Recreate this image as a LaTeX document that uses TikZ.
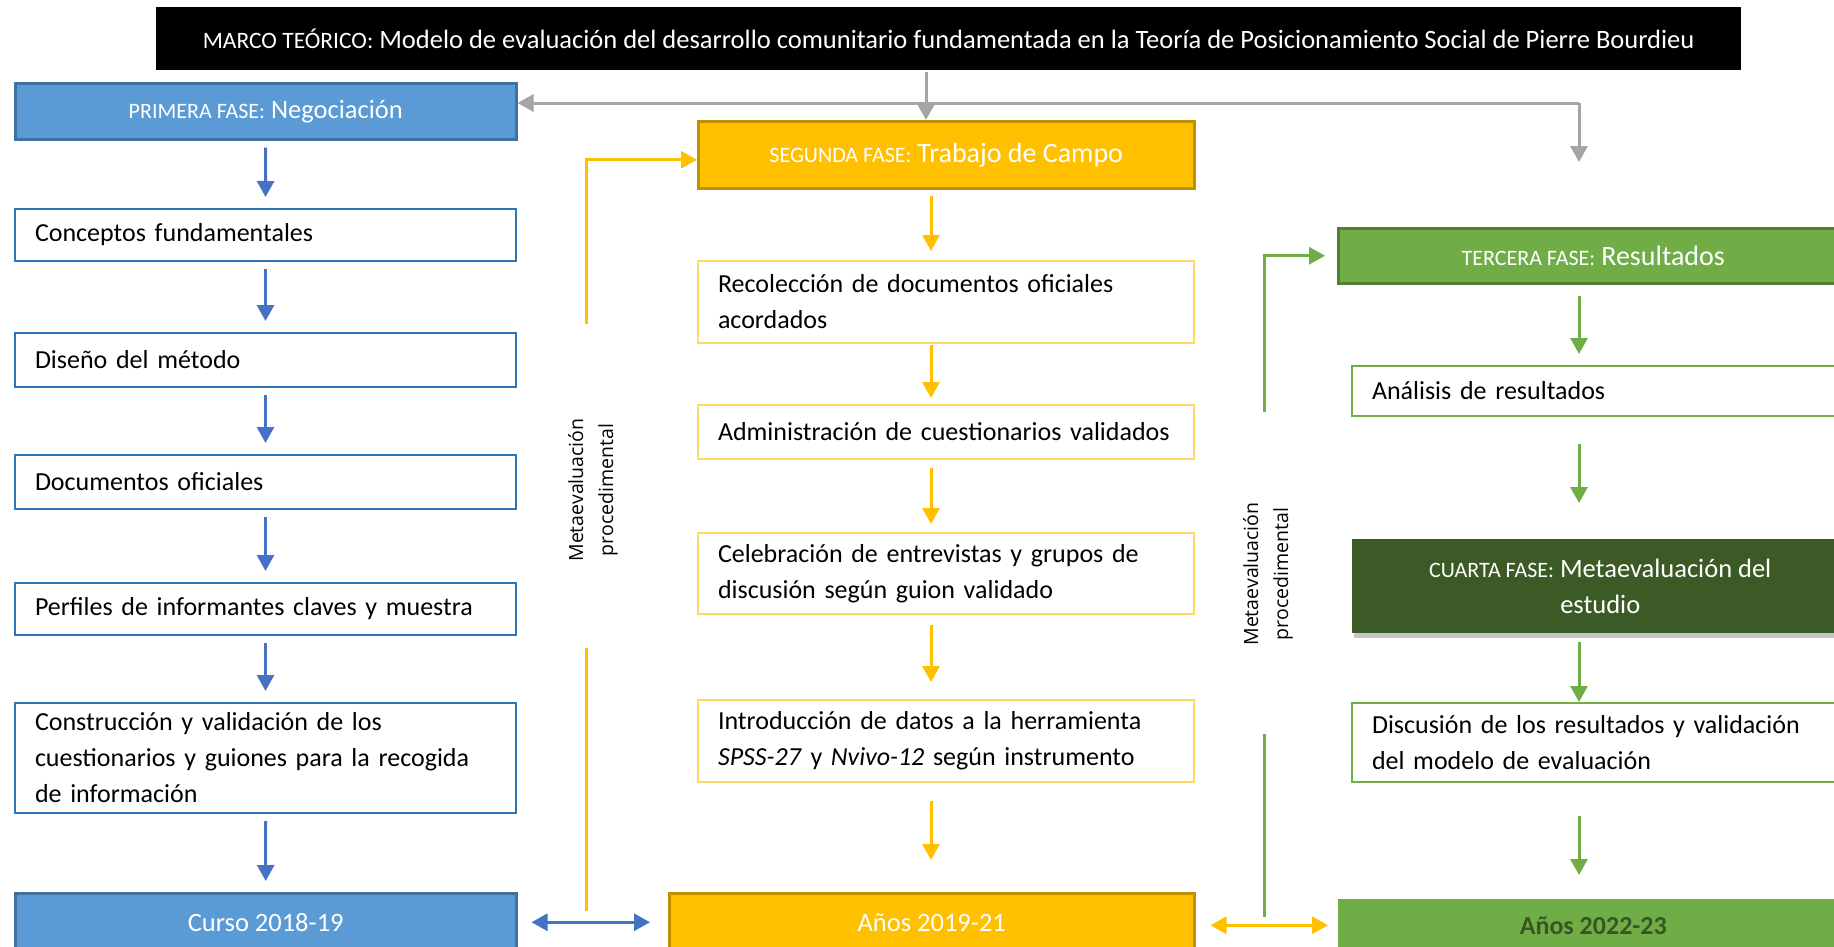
\documentclass[tikz,border=0pt]{standalone}
\usepackage{fontspec}
\setmainfont{Carlito}
\newfontfamily\labfont{Open Sans}
\usetikzlibrary{arrows.meta,shadows}

\definecolor{azul}{HTML}{5B9BD5}
\definecolor{azulborde}{HTML}{41719C}
\definecolor{azullinea}{HTML}{2E75B6}
\definecolor{azulflecha}{HTML}{4472C4}
\definecolor{amarillo}{HTML}{FFC000}
\definecolor{amarilloborde}{HTML}{BF9000}
\definecolor{amarillolinea}{HTML}{FFD966}
\definecolor{verde}{HTML}{70AD47}
\definecolor{verdeborde}{HTML}{507E32}
\definecolor{verdeoscuro}{HTML}{3B5A25}
\definecolor{textoverde}{HTML}{375623}
\definecolor{gris}{HTML}{A5A5A5}

\newcommand{\pequena}[1]{{\fontsize{22}{26}\selectfont #1}}

\begin{document}
\begin{tikzpicture}[x=1pt,y=-1pt,
  caja/.style={rectangle, draw, fill=white, anchor=north west, line width=2pt,
    inner xsep=20pt, inner ysep=0pt, align=left,
    font=\fontsize{26}{36}\selectfont},
  fase/.style={rectangle, anchor=north west, line width=2.5pt, inner sep=0pt,
    align=center, text=white, font=\fontsize{26.5}{36}\selectfont},
  flecha/.style={line width=3pt, -{Triangle[width=17pt,length=16pt]}},
  rotulo/.style={rotate=90, align=center, font=\labfont\fontsize{19.5}{30}\selectfont}
]
\clip (0,0) rectangle (1834,946);
\useasboundingbox (0,0) rectangle (1834,946);

% marco teorico
\node[fase, fill=black, minimum width=1585pt, minimum height=63pt,
  font=\fontsize{26.5}{30}\selectfont] (marco) at (155,6)
  {{\fontsize{23.5}{28}\selectfont MARCO TEÓRICO:} Modelo de evaluación del desarrollo comunitario fundamentada en la Teoría de Posicionamiento Social de Pierre Bourdieu};

% primera fase
\node[fase, fill=azul, draw=azulborde, minimum width=501pt, minimum height=56pt] (pri) at (14,82)
  {\pequena{PRIMERA FASE:} Negociación};
\begin{scope}[every node/.style={caja, draw=azullinea, text width=461pt}]
\node[minimum height=52pt] (c1) at (14,208) {Conceptos fundamentales};
\node[minimum height=54pt] (c2) at (14,332) {Diseño del método};
\node[minimum height=54pt] (c3) at (14,454) {Documentos oficiales};
\node[minimum height=52pt] (c4) at (14,582) {Perfiles de informantes claves y muestra};
\node[minimum height=110pt] (c5) at (14,702)
  {Construcción y validación de los\\cuestionarios y guiones para la recogida\\de información};
\end{scope}
\node[fase, fill=azul, draw=azulborde, minimum width=501pt, minimum height=58pt] (curso) at (14,892)
  {Curso 2018-19};

% segunda fase
\node[fase, fill=amarillo, draw=amarilloborde, minimum width=496pt, minimum height=67pt] (seg) at (697,120)
  {\pequena{SEGUNDA FASE:} {\fontsize{28}{36}\selectfont Trabajo de Campo}};
\begin{scope}[every node/.style={caja, draw=amarillolinea, text width=456pt}]
\node[minimum height=82pt] (m1) at (697,260) {Recolección de documentos oficiales\\acordados};
\node[minimum height=54pt] (m2) at (697,404) {Administración de cuestionarios validados};
\node[minimum height=81pt] (m3) at (697,532) {Celebración de entrevistas y grupos de\\discusión según guion validado};
\node[minimum height=82pt] (m4) at (697,699)
  {Introducción de datos a la herramienta\\\textit{SPSS-27} y \textit{Nvivo-12} según instrumento};
\end{scope}
\node[fase, fill=amarillo, draw=amarilloborde, minimum width=525pt, minimum height=58pt] (anos1) at (668,892)
  {Años 2019-21};

% tercera y cuarta fase
\node[fase, fill=verde, draw=verdeborde, minimum width=510pt, minimum height=55pt] (ter) at (1337,227)
  {\pequena{TERCERA FASE:} {\fontsize{28}{36}\selectfont Resultados}};
\begin{scope}[every node/.style={caja, draw=verde, text width=456pt}]
\node[minimum height=50pt] (r1) at (1351,365) {Análisis de resultados};
\node[minimum height=79pt] (r2) at (1351,702) {Discusión de los resultados y validación\\del modelo de evaluación};
\end{scope}
\node[fase, fill=verdeoscuro, minimum width=496pt, minimum height=94pt,
  drop shadow={shadow xshift=2pt, shadow yshift=-5pt, opacity=.45}] (cua) at (1351,538)
  {\pequena{CUARTA FASE:} Metaevaluación del\\estudio};
\node[fase, fill=verde, minimum width=510pt, minimum height=52pt, text=textoverde,
  font=\fontsize{26}{36}\selectfont\bfseries] (anos2) at (1337,898) {Años 2022-23};

% flechas de cada columna
\coordinate (ejeM) at (931,0);
\coordinate (ejeD) at (1579,0);
\foreach \a/\b in {pri/c1,c1/c2,c2/c3,c3/c4,c4/c5,c5/curso}
  \draw[flecha, azulflecha, shorten <=7pt, shorten >=11pt] (\a.south) -- (\b.north);
\foreach \a/\b/\s/\e in {seg/m1/6/9,m1/m2/1/6,m2/m3/8/8,m3/m4/10/17,m4/anos1/18/32}
  \draw[flecha, amarillo, shorten <=\s pt, shorten >=\e pt] (\a.south -| ejeM) -- (\b.north -| ejeM);
\foreach \a/\b/\s/\e in {ter/r1/11/11,r1/cua/27/35,cua/r2/7/0,r2/anos2/33/23}
  \draw[flecha, verde, shorten <=\s pt, shorten >=\e pt] (\a.south -| ejeD) -- (\b.north -| ejeD);

% flechas grises
\coordinate (g) at (926,103);
\coordinate (gt) at (1579,162);
\draw[flecha, gris] (marco.south -| g) -- (seg.north -| g);
\draw[flecha, gris] (g -| ejeD) -- (g -| pri.east);
\draw[flecha, gris] (g -| ejeD) -- (gt);

% periodos
\draw[line width=3pt, azulflecha, {Triangle[width=17pt,length=16pt]}-{Triangle[width=17pt,length=16pt]},
  shorten <=14pt, shorten >=18pt] (curso.east) -- (curso.east -| anos1.west);
\draw[line width=3pt, amarillo, {Triangle[width=17pt,length=16pt]}-{Triangle[width=17pt,length=16pt]},
  shorten <=15pt, shorten >=9pt] (anos1.east |- anos2.west) -- (anos2.west);

% metaevaluacion
\coordinate (y1) at (586,324);
\coordinate (y2) at (586,648);
\coordinate (y3) at (586,911);
\draw[flecha, amarillo] (y1) |- ([yshift=-5pt]seg.west);
\draw[line width=3pt, amarillo] (y2) -- (y3);
\node[rotulo] (meta1) at (593,490) {Metaevaluación\\procedimental};

\coordinate (v1) at (1264,412);
\coordinate (v2) at (1264,734);
\coordinate (v3) at (1264,917);
\draw[flecha, verde, shorten >=12pt] (v1) |- (ter.west);
\draw[line width=3pt, verde] (v2) -- (v3);
\node[rotulo] (meta2) at (1268,574) {Metaevaluación\\procedimental};
\end{tikzpicture}
\end{document}
